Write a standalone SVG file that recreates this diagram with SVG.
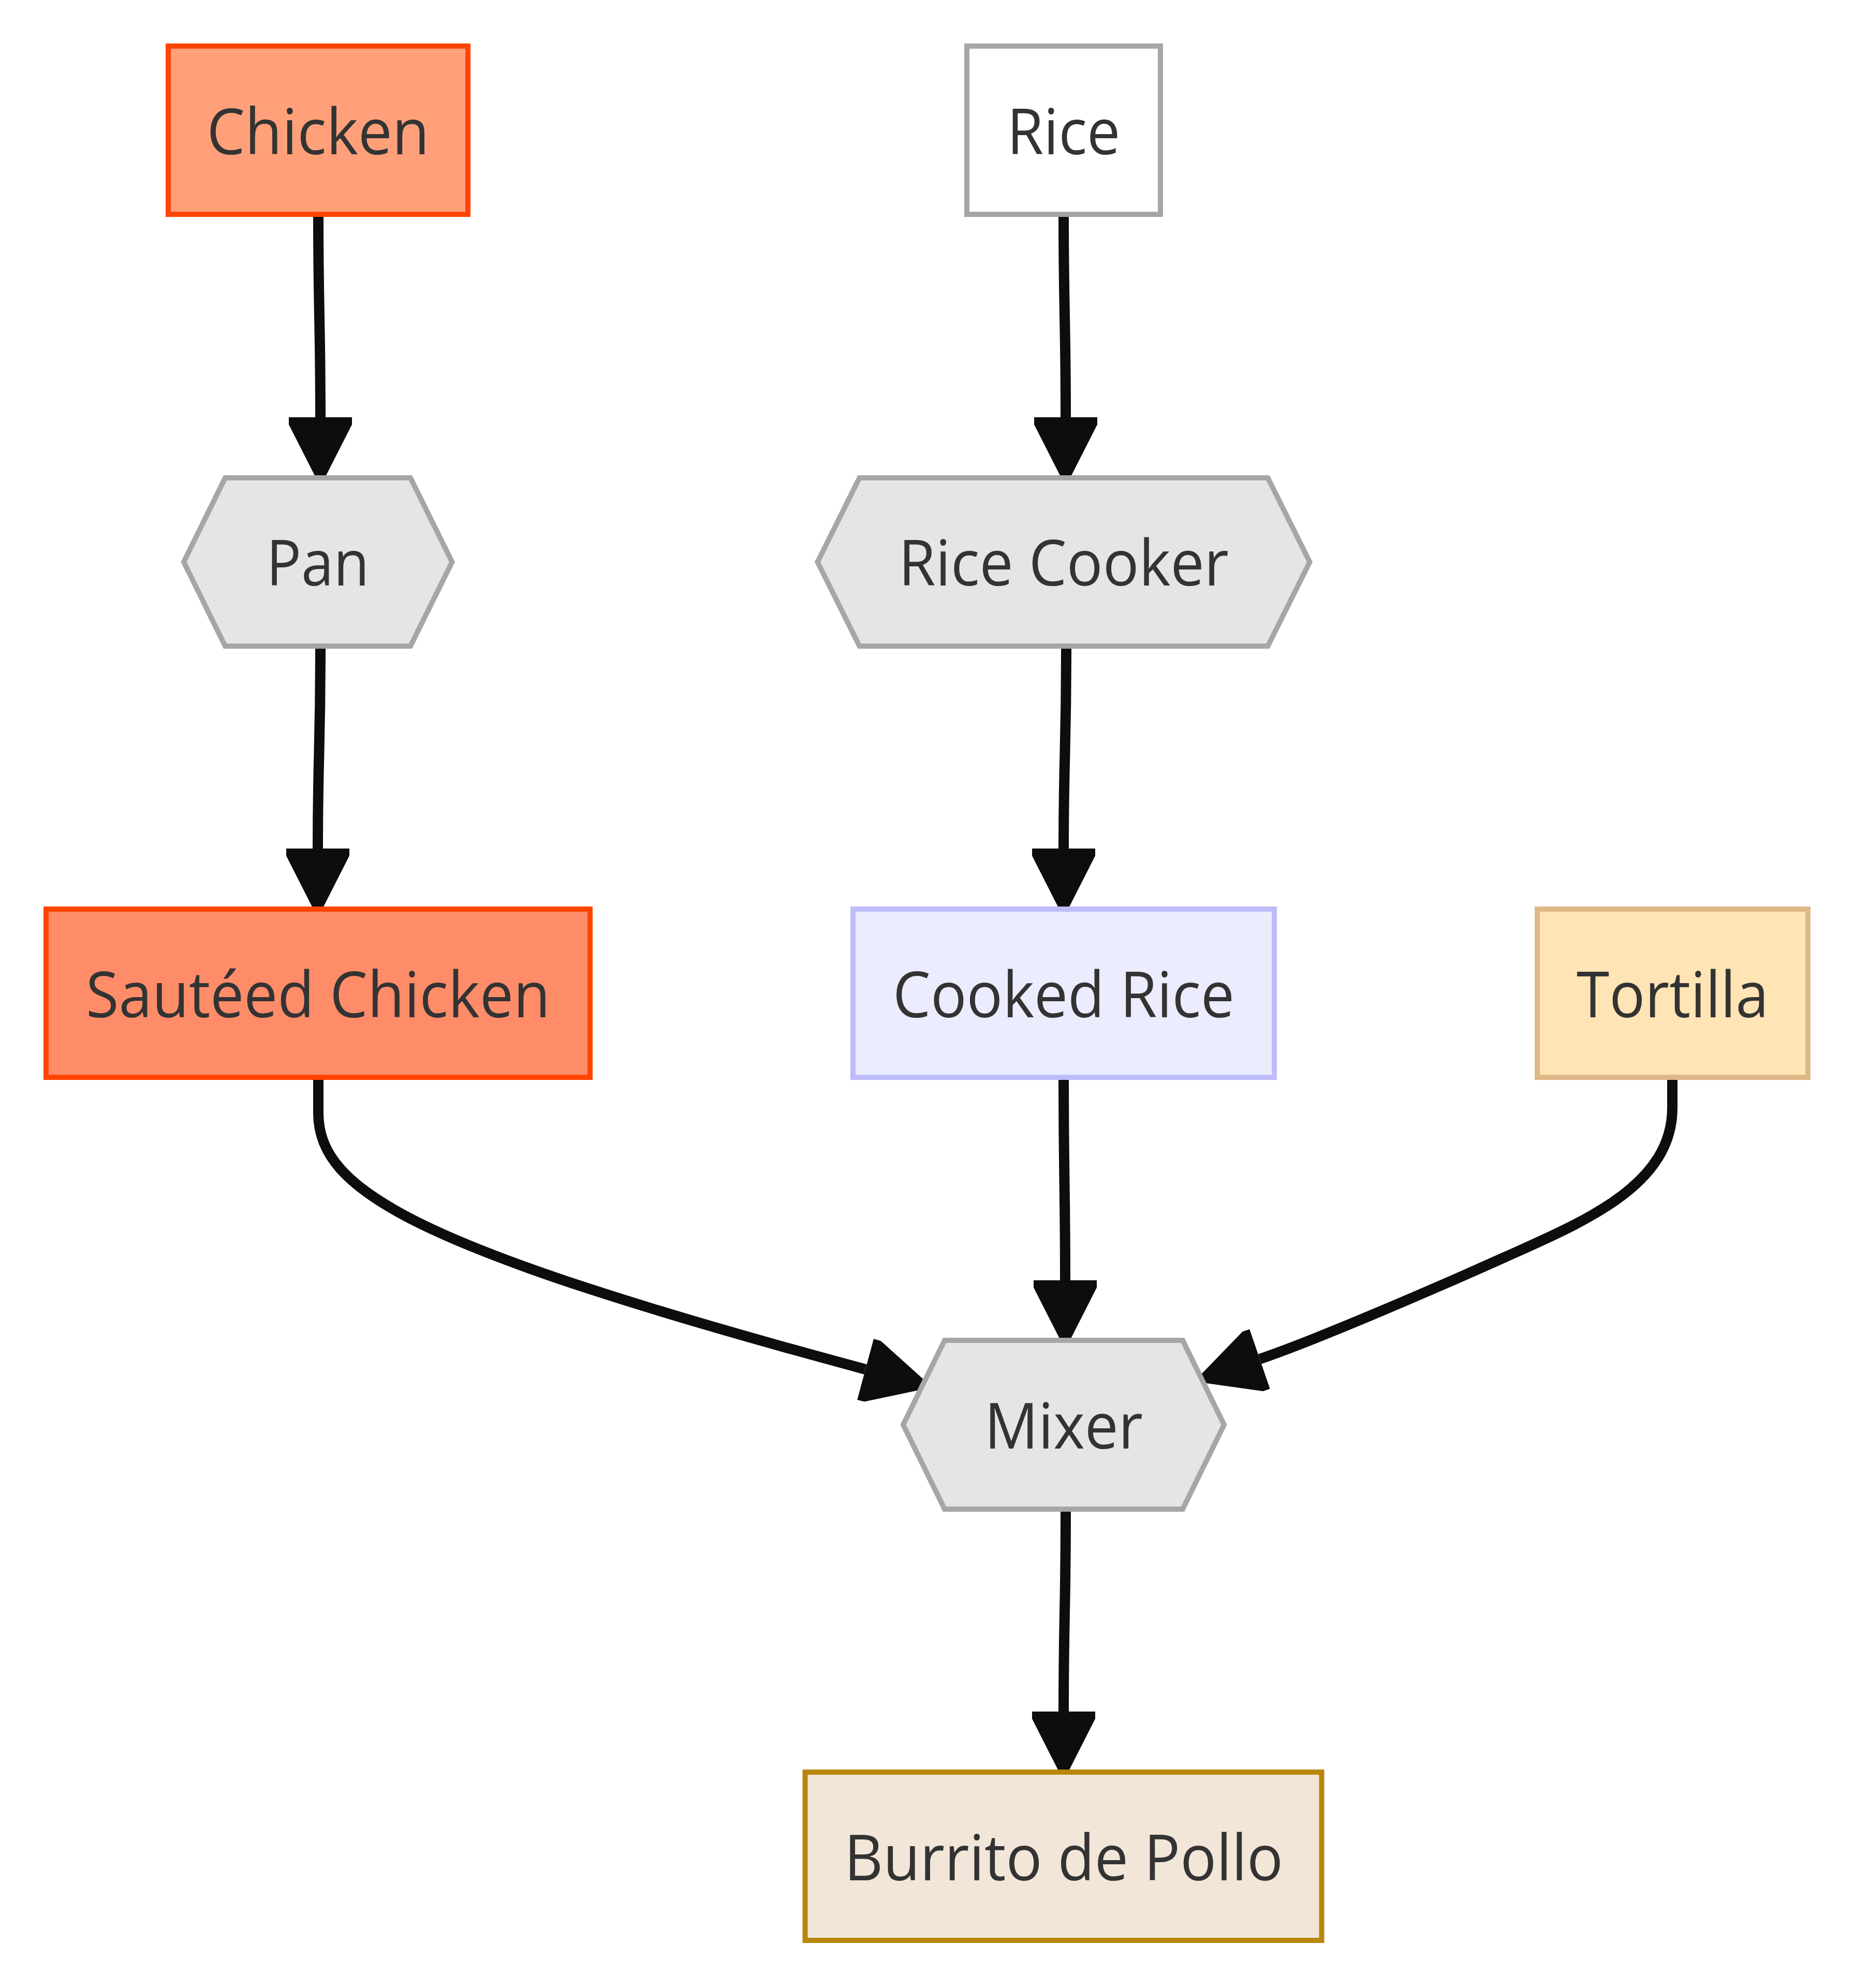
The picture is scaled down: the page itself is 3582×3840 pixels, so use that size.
<svg xmlns="http://www.w3.org/2000/svg" width="3582" height="3840" viewBox="0 0 3582 3840">
<style>
.lbl{font-family:"Open Sans","Noto Sans","Liberation Sans",sans-serif;font-size:123px;fill:#333333;text-anchor:middle}
.proc{fill:#e5e5e5;stroke:#a6a6a6;stroke-width:10}
.edge{fill:none;stroke:#0d0d0d;stroke-width:20;marker-end:url(#arrow)}
</style>
<defs>
<marker id="arrow" markerUnits="userSpaceOnUse" viewBox="0 0 134 122" refX="0" refY="61" markerWidth="134" markerHeight="122" orient="auto">
<path d="M0,0 L14,0 L134,61 L14,122 L0,122 Z" fill="#0d0d0d"/>
</marker>
</defs>
<rect x="0" y="0" width="3582" height="3840" fill="#ffffff"/>
<g id="connectors">
<path class="edge" d="M615,419 C615,600 619,620 619,806"/>
<path class="edge" d="M2055,419 C2055,600 2059,620 2059,806"/>
<path class="edge" d="M619,1253 C619,1450 614,1460 614,1639"/>
<path class="edge" d="M2060,1253 C2060,1450 2055,1460 2055,1639"/>
<path class="edge" d="M2055,2086 C2055,2280 2058,2290 2058,2473"/>
<path class="edge" d="M2059,2920 C2059,3110 2055,3120 2055,3306"/>
<path class="edge" d="M615,2086 L615,2150 C615,2300 800,2410 1672,2645"/>
<path class="edge" d="M3231,2086 L3231,2140 C3231,2290 3060,2360 2906,2429 S2542,2588 2434,2625"/>
</g>
<g id="chicken">
<rect x="325" y="89" width="579" height="325" fill="#FFA07A" stroke="#FF4500" stroke-width="10"/>
<text class="lbl" x="614.5" y="298" textLength="430" lengthAdjust="spacingAndGlyphs">Chicken</text>
</g>
<g id="rice">
<rect x="1868" y="89" width="374" height="325" fill="#ffffff" stroke="#a6a6a6" stroke-width="10"/>
<text class="lbl" x="2055" y="298" textLength="219" lengthAdjust="spacingAndGlyphs">Rice</text>
</g>
<g id="pan">
<polygon class="proc" points="355,1085.5 435,923 793,923 873.5,1085.5 793,1248 435,1248"/>
<text class="lbl" x="614" y="1131" textLength="199" lengthAdjust="spacingAndGlyphs">Pan</text>
</g>
<g id="rice-cooker">
<polygon class="proc" points="1579.5,1085.5 1660.5,923 2449.5,923 2530.5,1085.5 2449.5,1248 1660.5,1248"/>
<text class="lbl" x="2055" y="1131" textLength="638" lengthAdjust="spacingAndGlyphs">Rice Cooker</text>
</g>
<g id="sauteed-chicken">
<rect x="89" y="1756" width="1051" height="325" fill="#FF8C69" stroke="#FF4500" stroke-width="10"/>
<text class="lbl" x="614.5" y="1965" textLength="897" lengthAdjust="spacingAndGlyphs">Sautéed Chicken</text>
</g>
<g id="cooked-rice">
<rect x="1648" y="1756" width="814" height="325" fill="#ECECFF" stroke="#BDBDFA" stroke-width="10"/>
<text class="lbl" x="2055" y="1965" textLength="660" lengthAdjust="spacingAndGlyphs">Cooked Rice</text>
</g>
<g id="tortilla">
<rect x="2970" y="1756" width="523" height="325" fill="#FFE4B5" stroke="#DEB887" stroke-width="10"/>
<text class="lbl" x="3231.5" y="1965" textLength="371" lengthAdjust="spacingAndGlyphs">Tortilla</text>
</g>
<g id="mixer">
<polygon class="proc" points="1745,2752 1825,2589 2285,2589 2365,2752 2285,2915 1825,2915"/>
<text class="lbl" x="2055" y="2798" textLength="306" lengthAdjust="spacingAndGlyphs">Mixer</text>
</g>
<g id="burrito">
<rect x="1555.5" y="3423" width="998" height="325" fill="#F2E6D8" stroke="#B8860B" stroke-width="10"/>
<text class="lbl" x="2055" y="3632" textLength="848" lengthAdjust="spacingAndGlyphs">Burrito de Pollo</text>
</g>
</svg>
